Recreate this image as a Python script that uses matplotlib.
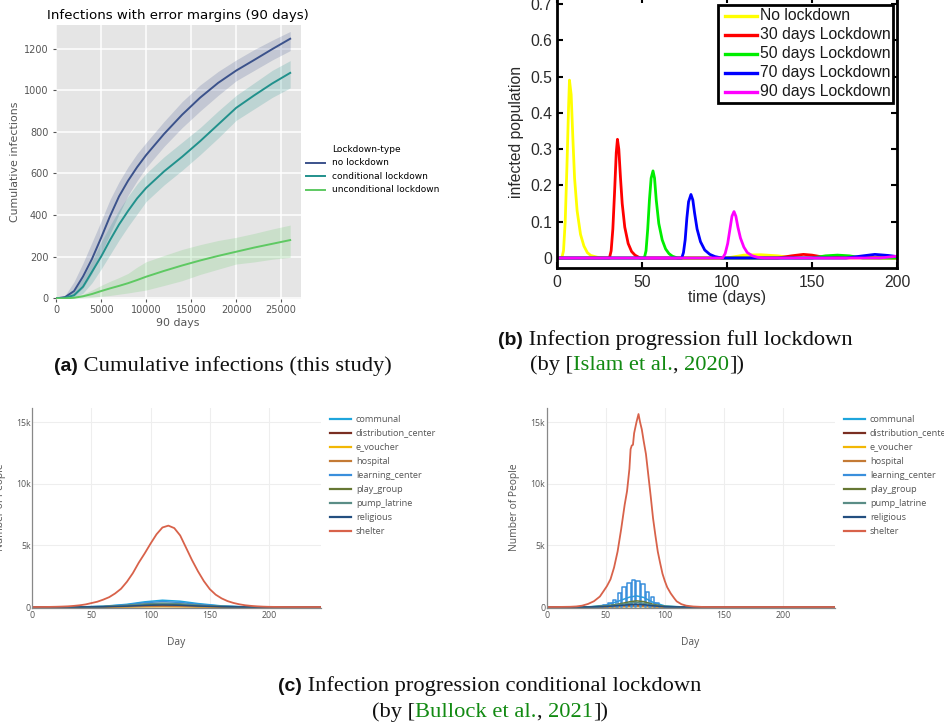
import numpy as np
import matplotlib.pyplot as plt
from matplotlib.lines import Line2D
from matplotlib.patches import Rectangle

W, H = 945, 726

# (a) cumulative infections, mean and error band per lockdown type
steps = [0, 1000, 2000, 3000, 4000, 5000, 6000, 7000, 8000, 9000, 10000,
         12000, 14000, 16000, 18000, 20000, 22000, 24000, 26000]
no_ld = [0, 6, 35, 105, 190, 290, 395, 490, 565, 630, 688, 790, 882, 964, 1035, 1094, 1145, 1197, 1247]
no_ld_lo = [0, 1, 10, 50, 120, 215, 310, 405, 495, 565, 628, 730, 820, 900, 975, 1045, 1095, 1145, 1190]
no_ld_hi = [0, 14, 80, 170, 270, 370, 475, 560, 632, 695, 748, 850, 945, 1025, 1090, 1145, 1195, 1240, 1282]
cond_ld = [0, 3, 15, 56, 128, 200, 280, 355, 420, 480, 530, 610, 680, 755, 835, 915, 975, 1032, 1083]
cond_ld_lo = [0, 0, 4, 25, 75, 140, 210, 280, 345, 405, 465, 545, 615, 690, 770, 855, 910, 965, 1011]
cond_ld_hi = [0, 8, 35, 100, 180, 270, 350, 425, 490, 550, 600, 680, 750, 820, 900, 975, 1035, 1095, 1142]
uncond_ld = [0, 0, 3, 10, 21, 35, 48, 60, 73, 88, 104, 132, 158, 182, 204, 224, 244, 262, 280]
uncond_ld_lo = [0, 0, 0, 2, 5, 10, 14, 20, 26, 33, 40, 62, 85, 115, 140, 165, 175, 188, 197]
uncond_ld_hi = [0, 2, 8, 20, 40, 62, 82, 100, 120, 150, 176, 206, 235, 258, 278, 293, 312, 333, 352]
a_labels = ['no lockdown', 'conditional lockdown', 'unconditional lockdown']
a_colors = ['#3b528b', '#21918c', '#5ec962']

# (b) infected population fraction, Islam et al.
b_labels = ['No lockdown', '30 days Lockdown', '50 days Lockdown', '70 days Lockdown', '90 days Lockdown']
b_colors = ['#ffff00', '#ff0000', '#00ee00', '#0000ff', '#ff00ff']
b_days = [
    [0, 3, 4, 5, 6, 7, 7.5, 8.5, 9.5, 10.5, 12, 14, 16, 18, 20, 24, 30, 100, 105, 110, 120, 130, 135, 140, 200],
    [0, 31, 32, 33, 34, 35, 35.7, 36.5, 37.5, 38.5, 40, 42, 44, 46, 49, 130, 138, 145, 150, 156, 200],
    [0, 51.5, 52.5, 53.5, 54.5, 55.5, 56.6, 57.5, 58.5, 60, 62, 64, 66, 68, 71, 150, 158, 165, 172, 180, 200],
    [0, 73.5, 74.5, 75.5, 76.5, 77.5, 78.9, 80, 81, 82.5, 84.5, 87, 90, 93, 97, 170, 180, 187, 195, 200],
    [0, 97.5, 99, 100.5, 102, 103, 104.2, 105.3, 106.5, 108, 110, 112, 115, 118, 122, 190, 200],
]
b_vals = [
    [0, 0, 0.02, 0.1, 0.25, 0.42, 0.49, 0.45, 0.33, 0.22, 0.13, 0.065, 0.033, 0.015, 0.007, 0.002, 0, 0, 0.004, 0.008, 0.009, 0.006, 0.003, 0, 0],
    [0, 0, 0.02, 0.08, 0.18, 0.29, 0.327, 0.3, 0.22, 0.15, 0.085, 0.04, 0.018, 0.008, 0, 0, 0.006, 0.01, 0.008, 0.003, 0],
    [0, 0, 0.02, 0.08, 0.16, 0.22, 0.24, 0.22, 0.16, 0.095, 0.05, 0.025, 0.012, 0.005, 0, 0, 0.006, 0.008, 0.006, 0, 0],
    [0, 0, 0.015, 0.05, 0.11, 0.155, 0.175, 0.16, 0.125, 0.08, 0.045, 0.022, 0.01, 0.004, 0, 0, 0.006, 0.01, 0.007, 0.004],
    [0, 0, 0.012, 0.04, 0.085, 0.115, 0.128, 0.115, 0.085, 0.055, 0.03, 0.015, 0.006, 0.002, 0, 0, 0.005],
]
b_yticks = [0, 0.1, 0.2, 0.3, 0.4, 0.5, 0.6, 0.7]
b_yticklabels = ['0', '0.1', '0.2', '0.3', '0.4', '0.5', '0.6', '0.7']

# (c) people infected per location type, Bullock et al.
c_labels = ['communal', 'distribution_center', 'e_voucher', 'hospital', 'learning_center',
            'play_group', 'pump_latrine', 'religious', 'shelter']
c_colors = ['#1ea5dc', '#7a2e22', '#f2b705', '#c47a35', '#3a8fdc',
            '#667733', '#5a8d86', '#234f80', '#d8624a']

left_days = [0, 40, 60, 80, 95, 110, 125, 140, 160, 180, 244]
left_small = {
    'communal': [0, 10, 60, 220, 420, 550, 470, 280, 90, 15, 0],
    'distribution_center': [0, 2, 15, 50, 85, 100, 85, 50, 18, 3, 0],
    'e_voucher': [0, 1, 5, 15, 28, 35, 28, 15, 5, 1, 0],
    'hospital': [0, 1, 8, 25, 45, 55, 45, 25, 8, 1, 0],
    'learning_center': [0, 8, 50, 180, 350, 440, 370, 220, 70, 10, 0],
    'play_group': [0, 5, 30, 110, 200, 250, 210, 120, 40, 6, 0],
    'pump_latrine': [0, 6, 40, 140, 250, 310, 260, 150, 50, 8, 0],
    'religious': [0, 3, 20, 70, 130, 170, 140, 80, 25, 4, 0],
}
left_shelter_days = [0, 5, 10, 15, 20, 25, 30, 35, 40, 45, 50, 55, 60, 65, 70, 75, 80, 85, 90,
                     95, 100, 105, 110, 115, 120, 125, 130, 135, 140, 145, 150, 155, 160, 165,
                     170, 175, 180, 185, 190, 195, 200, 205, 210, 215, 220, 230, 244]
left_shelter = [0, 2, 5, 10, 20, 35, 55, 90, 140, 210, 320, 430, 600, 800, 1100, 1480, 2050,
                2750, 3600, 4350, 5150, 5900, 6450, 6600, 6400, 5800, 4800, 3800, 2900, 2100,
                1450, 1000, 700, 480, 330, 220, 140, 90, 55, 30, 15, 8, 4, 2, 1, 0, 0]

right_days = [0, 35, 50, 60, 70, 76, 82, 90, 100, 115, 244]
right_small = {
    'communal': [0, 10, 150, 450, 800, 900, 780, 380, 90, 5, 0],
    'distribution_center': [0, 2, 25, 60, 110, 130, 110, 55, 15, 1, 0],
    'e_voucher': [0, 1, 8, 20, 35, 40, 35, 18, 5, 0, 0],
    'hospital': [0, 1, 12, 30, 55, 65, 55, 28, 8, 0, 0],
    'play_group': [0, 5, 80, 220, 420, 500, 440, 220, 50, 3, 0],
    'pump_latrine': [0, 4, 60, 170, 310, 360, 310, 160, 40, 2, 0],
    'religious': [0, 3, 40, 110, 190, 220, 190, 100, 25, 1, 0],
}
# learning centres close on rest days, so the series drops to zero between blocks
lc_block_start = [44, 48, 52, 56, 60, 64, 68, 72, 76, 80, 84, 88, 92, 96]
lc_block_height = [60, 150, 300, 600, 1100, 1600, 1950, 2200, 2150, 1900, 1250, 800, 350, 120]
right_shelter_days = [0, 10, 20, 25, 30, 35, 40, 45, 48, 51, 54, 57, 60, 63, 66, 68, 70, 71, 72,
                      73, 74, 76, 77.7, 79, 80.5, 82, 84, 86, 88, 90, 92, 94, 96, 98, 100, 102,
                      105, 108, 110, 114, 118, 124, 132, 140, 244]
right_shelter = [0, 5, 20, 45, 110, 250, 470, 850, 1270, 1700, 2250, 3200, 4500, 6300, 8300,
                 9400, 11200, 12800, 13100, 13150, 14100, 15000, 15650, 15000, 14400, 13500,
                 12400, 10700, 9000, 7200, 5800, 4500, 3570, 2700, 2100, 1600, 1100, 700, 460,
                 230, 110, 40, 5, 0, 0]


def fx(x):
    return x / W


def fy(y):
    return 1 - y / H


def box(l, t, r, b):
    return [fx(l), fy(b), (r - l) / W, (b - t) / H]


def set_family(ax, family):
    for lbl in ax.get_xticklabels() + ax.get_yticklabels():
        lbl.set_fontfamily(family)


fig = plt.figure(figsize=(W / 100, H / 100), dpi=100)

# ---------- (a) ----------
ax = fig.add_axes(box(56, 25, 301, 299))
ax.set_facecolor('#e5e5e5')
for sp in ax.spines.values():
    sp.set_visible(False)
ax.grid(True, color='white', lw=1.1)
ax.set_axisbelow(True)
for mean, lo, hi, c in zip([no_ld, cond_ld, uncond_ld],
                           [no_ld_lo, cond_ld_lo, uncond_ld_lo],
                           [no_ld_hi, cond_ld_hi, uncond_ld_hi], a_colors):
    ax.fill_between(steps, lo, hi, color=c, alpha=0.2, lw=0)
    ax.plot(steps, mean, color=c, lw=1.4)
ax.set_xlim(0, 27200)
ax.set_ylim(-3, 1313)
ax.set_xticks(range(0, 25001, 5000))
ax.set_yticks(range(0, 1201, 200))
ax.tick_params(colors='#555555', labelsize=7, length=2.5, width=0.8)
ax.tick_params(axis='x', pad=1.5)
ax.tick_params(axis='y', pad=3)
fig.text(fx(177.5), fy(15), 'Infections with error margins (90 days)', ha='center', va='center', fontsize=9.6)
fig.text(fx(15), fy(162), 'Cumulative infections', rotation=90, ha='center', va='center',
         fontsize=7.9, color='#555555')
fig.text(fx(178), fy(322.5), '90 days', ha='center', va='center', fontsize=7.9, color='#555555')

fig.text(fx(332), fy(149), 'Lockdown-type', va='center', fontsize=6.5)
for i, (lab, c) in enumerate(zip(a_labels, a_colors)):
    y = 162.5 + 13.7 * i
    fig.add_artist(Line2D([fx(306), fx(325)], [fy(y), fy(y)], color=c, lw=1.4))
    fig.text(fx(332), fy(y), lab, va='center', fontsize=6.5)

# ---------- (b) ----------
SANS = 'Liberation Sans'
bx = fig.add_axes(box(556.7, -3, 897, 268))
for d, v, c in zip(b_days, b_vals, b_colors):
    bx.plot(d, v, color=c, lw=2)
bx.set_xlim(0, 200)
bx.set_ylim(-0.0275, 0.719)
bx.set_xticks([0, 50, 100, 150, 200])
bx.set_yticks(b_yticks, b_yticklabels)
bx.tick_params(direction='in', top=True, right=True, length=4, width=1.5,
               labelsize=11.3, labelcolor='#2a2a2a')
bx.tick_params(axis='x', pad=5)
bx.tick_params(axis='y', pad=3)
set_family(bx, SANS)
for sp in bx.spines.values():
    sp.set_linewidth(2)
fig.text(fx(727), fy(297), 'time (days)', ha='center', va='center', fontsize=11.3,
         family=SANS, color='#2a2a2a')
fig.text(fx(517), fy(132), 'infected population', rotation=90, ha='center', va='center',
         fontsize=11.3, family=SANS, color='#2a2a2a')

fig.add_artist(Rectangle((fx(718), fy(103)), (893 - 718) / W, 98 / H, facecolor='white',
                         edgecolor='black', lw=2, transform=fig.transFigure))
for i, (lab, c) in enumerate(zip(b_labels, b_colors)):
    y = 16 + 18.9 * i
    fig.add_artist(Line2D([fx(725), fx(757)], [fy(y), fy(y)], color=c, lw=2.4))
    fig.text(fx(760), fy(y), lab, va='center', fontsize=11.3, family=SANS, color='#1a1a1a')

# ---------- (c) ----------
OPEN = 'Open Sans'


def location_panel(l, r, small_days, small, shelter_days, shelter, ylab_x, comb=False):
    cx = fig.add_axes(box(l, 408, r, 608))
    for lab, c in zip(c_labels, c_colors):
        if lab == 'shelter':
            cx.plot(shelter_days, shelter, color=c, lw=1.3)
        elif lab == 'learning_center' and comb:
            xs, ys = [0], [0]
            for s, h in zip(lc_block_start, lc_block_height):
                xs += [s, s, s + 3, s + 3]
                ys += [0, h, h, 0]
            xs.append(244)
            ys.append(0)
            cx.plot(xs, ys, color=c, lw=1.1)
        else:
            cx.plot(small_days, small[lab], color=c, lw=1.1)
    cx.set_xlim(0, 244)
    cx.set_ylim(-80, 16140)
    cx.set_xticks([0, 50, 100, 150, 200])
    cx.set_yticks([0, 5000, 10000, 15000], ['0', '5k', '10k', '15k'])
    cx.grid(True, color='#eeeeee', lw=0.8)
    cx.set_axisbelow(True)
    for side in ['top', 'right']:
        cx.spines[side].set_visible(False)
    cx.spines['left'].set_color('#888888')
    cx.spines['bottom'].set_color('#888888')
    cx.spines['left'].set_linewidth(0.9)
    cx.spines['bottom'].set_linewidth(0.9)
    cx.tick_params(length=0, labelsize=6.3, labelcolor='#555555')
    cx.tick_params(axis='x', pad=2)
    cx.tick_params(axis='y', pad=1)
    set_family(cx, OPEN)
    fig.text(fx((l + r) / 2 - 1), fy(643), 'Day', ha='center', va='center', fontsize=7.4,
             family=OPEN, color='#555555')
    fig.text(fx(ylab_x), fy(507), 'Number of People', rotation=90, ha='center', va='center',
             fontsize=7.4, family=OPEN, color='#555555')
    for i, (lab, c) in enumerate(zip(c_labels, c_colors)):
        y = 419 + 14.04 * i
        fig.add_artist(Line2D([fx(r + 9), fx(r + 30)], [fy(y), fy(y)], color=c, lw=1.6))
        fig.text(fx(r + 35), fy(y), lab, va='center', fontsize=6.6, family=OPEN, color='#555555')


location_panel(32.3, 321, left_days, left_small, left_shelter_days, left_shelter, 0.5)
location_panel(546.7, 835, right_days, right_small, right_shelter_days, right_shelter, 515, comb=True)

# ---------- captions ----------
SERIF = 'Liberation Serif'
GREEN = '#128a12'
renderer = fig.canvas.get_renderer()


def caption(x, y, parts, center=False):
    cur = x
    items = []
    for s, col, bold in parts:
        if bold:
            kw = dict(family='Liberation Sans', weight='bold', fontsize=14)
        else:
            kw = dict(family=SERIF, fontsize=16.2)
        t = fig.text(fx(cur), fy(y), s, color=col, va='baseline', ha='left', **kw)
        cur += t.get_window_extent(renderer).width
        items.append(t)
    if center:
        shift = (cur - x) / 2
        for t in items:
            t.set_x(t.get_position()[0] - shift / W)


K = '#111111'
caption(223, 371, [('(a)', K, True), (' Cumulative infections (this study)', K, False)], center=True)
caption(498, 345, [('(b)', K, True), (' Infection progression full lockdown', K, False)])
caption(530, 370, [('(by [', K, False), ('Islam et al.', GREEN, False), (', ', K, False),
                   ('2020', GREEN, False), ('])', K, False)])
caption(490, 691, [('(c)', K, True), (' Infection progression conditional lockdown', K, False)], center=True)
caption(490, 717, [('(by [', K, False), ('Bullock et al.', GREEN, False), (', ', K, False),
                   ('2021', GREEN, False), ('])', K, False)], center=True)

fig.savefig('out.png', dpi=100)
